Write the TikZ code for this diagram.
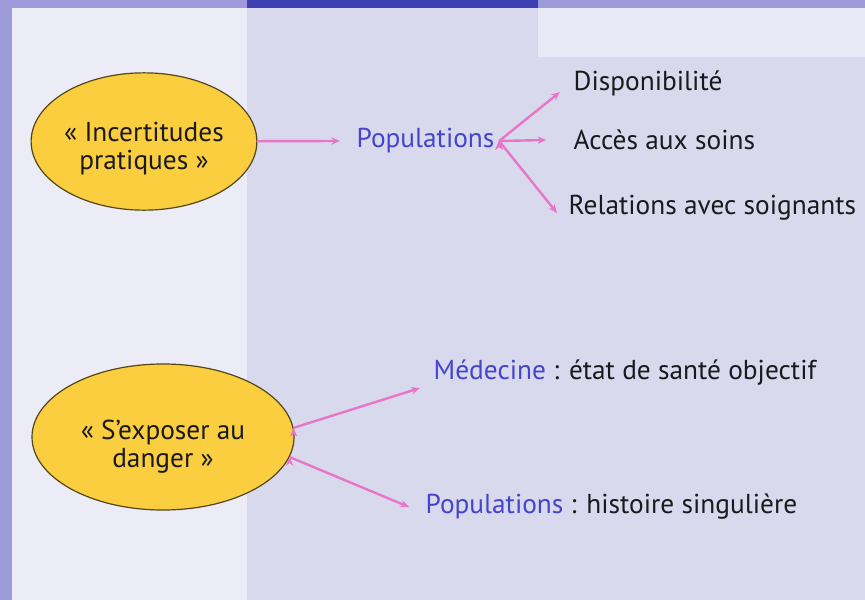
\documentclass[tikz,border=0pt]{standalone}
\usepackage{fontspec}
\setmainfont{PT Sans}
\usepackage{tikz}
\usetikzlibrary{shapes.geometric,arrows.meta}
\definecolor{slidepurple}{RGB}{156,154,216}
\definecolor{bandblue}{RGB}{62,64,178}
\definecolor{leftpanel}{RGB}{236,236,246}
\definecolor{mainpanel}{RGB}{217,217,237}
\definecolor{titlepanel}{RGB}{233,233,245}
\definecolor{bubblegold}{RGB}{250,206,62}
\definecolor{bubbleline}{RGB}{84,70,28}
\definecolor{linkpink}{RGB}{232,118,200}
\definecolor{popblue}{RGB}{68,68,204}
\definecolor{textdark}{RGB}{26,26,30}

\begin{document}
\begin{tikzpicture}[x=0.75pt, y=-0.75pt, >={Stealth[length=6.5pt,width=5.5pt]},
    bubble/.style={shape=ellipse, draw=bubbleline, line width=0.9pt, fill=bubblegold, align=center, inner sep=0pt},
    link/.style={draw=linkpink, line width=1.8pt},
    every node/.style={font=\fontsize{20.5}{21}\selectfont, text=textdark}]
    % slide background
    \fill[slidepurple] (0,0) rectangle (865,600);
    \fill[bandblue] (247,0) rectangle (538,8);
    \fill[leftpanel] (12,8) rectangle (247,600);
    \fill[mainpanel] (247,8) rectangle (865,600);
    \fill[titlepanel] (538,8) rectangle (865,57);

    \node[bubble, minimum width=163.5pt, minimum height=103pt] at (144,141.5) (E1) {\rule{0pt}{25pt}« Incertitudes\\pratiques »};
    \node[anchor=west, text=popblue] at (352,141) (P1) {Populations};
    \node[anchor=west] at (569,83) (D1) {Disponibilité};
    \node[anchor=west] at (569,140) (A1) {Accès aux soins};
    \node[anchor=west] at (564,208) (R1) {Relations avec soignants};

    \node[bubble, minimum width=196.5pt, minimum height=109.5pt] at (163,437) (E2) {\rule{0pt}{29pt}« S’exposer au\\danger »};
    \node[anchor=west] at (429,373) (M2) {\textcolor{popblue}{Médecine} : état de santé objectif};
    \node[anchor=west] at (421,507) (P2) {\textcolor{popblue}{Populations} : histoire singulière};

    \path [->, link] (E1) edge ([xshift=-9]P1.west);
    \path [->, link] (P1.east) edge ([shift={(-9,9)}]D1.west);
    \path [->, link] (P1.east) edge ([xshift=-17]A1.west);
    \path [->, link] (P1.east) edge ([shift={(-7,5)}]R1.west);
    \path [->, link] (E2.4.4) edge ([shift={(-9,15)}]M2.west);
    \path [->, link] (E2.-9.5) edge ([xshift=-9]P2.west);
\end{tikzpicture}
\end{document}
